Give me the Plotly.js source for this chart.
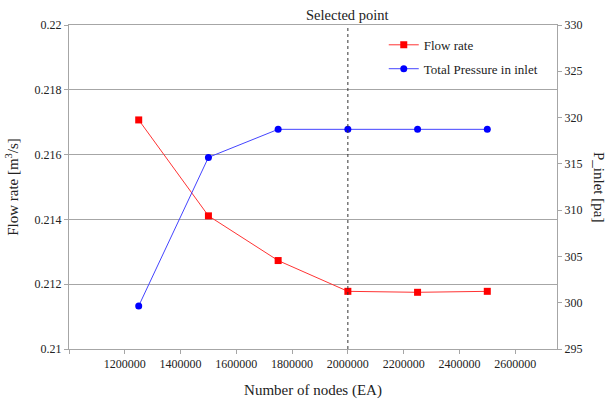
<!DOCTYPE html>
<html>
<head>
<meta charset="utf-8">
<script src="https://cdn.plot.ly/plotly-3.0.1.min.js"></script>
<style>html,body{margin:0;padding:0;background:#fff;}</style>
</head>
<body>
<div id="chart" style="width:607px;height:400px"></div>
<script>
// Data
const nodes = [1250000, 1500000, 1750000, 2000000, 2250000, 2500000];
const flowRate = [0.21707, 0.21411, 0.21273, 0.21178, 0.21175, 0.21178];
const pressureInlet = [299.65, 315.7, 318.73, 318.73, 318.73, 318.73];
const xTickVals = [1000000, 1200000, 1400000, 1600000, 1800000, 2000000, 2200000, 2400000, 2600000];
const xTickText = ['', '1200000', '1400000', '1600000', '1800000', '2000000', '2200000', '2400000', '2600000'];
const yTickVals = [0.21, 0.212, 0.214, 0.216, 0.218, 0.22];
const yTickText = ['0.21', '0.212', '0.214', '0.216', '0.218', '0.22'];
const y2TickVals = [295, 300, 305, 310, 315, 320, 325, 330];
const selectedX = 2000000;

const FONT = 'Liberation Serif';
const axisGray = '#a6a6a6';
const txt = '#222';

const traces = [
  {x: nodes, y: flowRate, name: 'Flow rate', type: 'scatter', mode: 'lines+markers', legendgroup: 'a',
   line: {color: '#ff3333', width: 1}, marker: {symbol: 'square', size: 7, color: '#ff0000'}, yaxis: 'y'},
  {x: nodes, y: pressureInlet, name: 'Total Pressure in inlet', type: 'scatter', mode: 'lines+markers', legendgroup: 'b',
   line: {color: '#4444ff', width: 1}, marker: {symbol: 'circle', size: 7, color: '#0000ff'}, yaxis: 'y2'}
];

const layout = {
  width: 607, height: 400,
  margin: {l: 69, r: 50, t: 25, b: 51},
  paper_bgcolor: '#fff', plot_bgcolor: '#fff',
  font: {family: FONT, size: 12, color: txt},
  showlegend: true,
  legend: {x: 0.645, y: 0.985, xanchor: 'left', yanchor: 'top', bgcolor: 'rgba(0,0,0,0)',
           traceorder: 'grouped', tracegroupgap: 4,
           font: {family: FONT, size: 13, color: txt}},
  xaxis: {range: [1000000, 2750000], tickvals: xTickVals, ticktext: xTickText,
          showgrid: false, zeroline: false, showline: true, linecolor: axisGray, linewidth: 1, mirror: true,
          ticks: 'outside', ticklen: 4, tickcolor: axisGray,
          tickfont: {family: FONT, size: 12, color: txt},
          title: {text: 'Number of nodes (EA)', font: {family: FONT, size: 15, color: txt}, standoff: 14}},
  yaxis: {range: [0.21, 0.22], tickvals: yTickVals, ticktext: yTickText,
          showgrid: true, gridcolor: axisGray, gridwidth: 1, zeroline: false,
          showline: true, linecolor: axisGray, linewidth: 1,
          ticks: 'outside', ticklen: 4, tickcolor: axisGray,
          tickfont: {family: FONT, size: 12, color: txt},
          title: {text: 'Flow rate [m<sup>3</sup>/s]', font: {family: FONT, size: 15, color: txt}, standoff: 12}},
  yaxis2: {range: [295, 330], tickvals: y2TickVals, overlaying: 'y', side: 'right',
           showgrid: false, zeroline: false, showline: true, linecolor: axisGray, linewidth: 1,
           ticks: 'outside', ticklen: 4, tickcolor: axisGray,
           tickfont: {family: FONT, size: 12, color: txt}},
  shapes: [
    {type: 'line', xref: 'x', yref: 'paper', x0: selectedX, x1: selectedX, y0: 0, y1: 1,
     line: {color: '#333', width: 1, dash: '3px,3px'}}
  ],
  annotations: [
    {xref: 'x', yref: 'paper', x: selectedX, y: 1, yanchor: 'bottom', text: 'Selected point', showarrow: false,
     font: {family: FONT, size: 14.5, color: txt}},
    {xref: 'paper', yref: 'paper', x: 1, y: 0.5, xanchor: 'center', xshift: 42, text: 'P_inlet [pa]', textangle: 90, showarrow: false,
     font: {family: FONT, size: 15, color: txt}}
  ]
};

Plotly.newPlot('chart', traces, layout, {displayModeBar: false});
</script>
</body>
</html>
